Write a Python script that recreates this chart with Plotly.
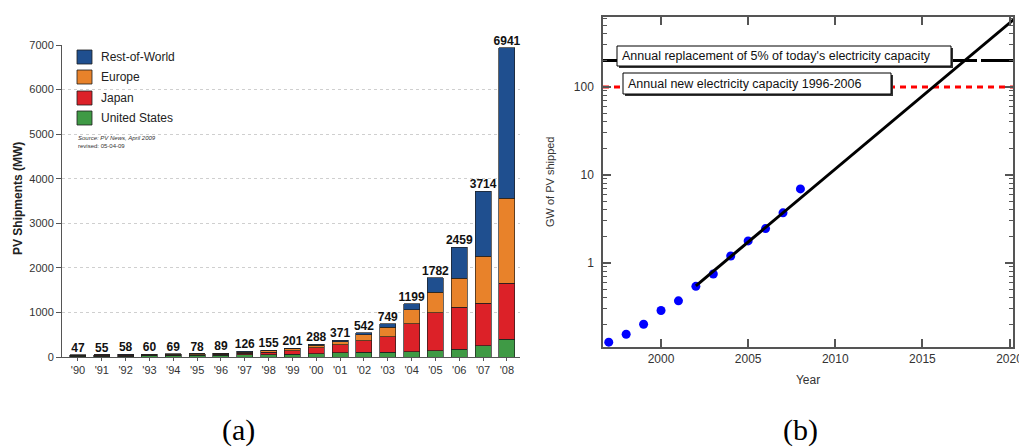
import plotly.graph_objects as go

W, H = 1019, 448

# ---------------- data: panel (a) ----------------
years_short = ["'90", "'91", "'92", "'93", "'94", "'95", "'96", "'97", "'98", "'99",
               "'00", "'01", "'02", "'03", "'04", "'05", "'06", "'07", "'08"]
totals = [47, 55, 58, 60, 69, 78, 89, 126, 155, 201, 288, 371, 542, 749, 1199, 1782, 2459, 3714, 6941]
us_mw = [15, 17, 18, 23, 26, 35, 39, 51, 54, 60, 75, 100, 112, 103, 120, 135, 172, 247, 397]
japan_mw = [17, 19, 19, 17, 17, 16, 21, 35, 49, 80, 129, 171, 255, 354, 622, 861, 944, 959, 1258]
europe_mw = [10, 13, 16, 17, 22, 20, 19, 19, 34, 40, 61, 75, 127, 210, 314, 457, 652, 1049, 1910]
row_mw = [5, 6, 5, 3, 4, 7, 10, 21, 18, 21, 23, 25, 48, 82, 143, 329, 691, 1459, 3376]

series_names = ["United States", "Japan", "Europe", "Rest-of-World"]
series_values = [us_mw, japan_mw, europe_mw, row_mw]
series_colors = ["#3f9a45", "#dc2128", "#e8822a", "#1f4f8f"]

# ---------------- data: panel (b) ----------------
pv_years = [1997, 1998, 1999, 2000, 2001, 2002, 2003, 2004, 2005, 2006, 2007, 2008]
pv_gw = [0.126, 0.155, 0.201, 0.288, 0.371, 0.542, 0.749, 1.199, 1.782, 2.459, 3.714, 6.941]
fit_years = [2002, 2021]
fit_gw = [0.55, 780]
replacement_gw = 200
new_capacity_gw = 100
year_range = [1996.67, 2020.2]
year_ticks = [2000, 2005, 2010, 2015, 2020]
gw_minor_ticks = [m * d for d in (0.1, 1, 10, 100) for m in range(2, 10)]

NARROW = "Liberation Sans Narrow, Arial Narrow, Liberation Sans, Arial, sans-serif"
ARIAL = "Liberation Sans, Arial, sans-serif"


def px(x):
    return x / W


def py(y):
    return 1 - y / H


fig = go.Figure()

for name, vals, col in zip(series_names, series_values, series_colors):
    fig.add_trace(go.Bar(
        x=years_short, y=vals, name=name, width=0.67,
        marker=dict(color=col, line=dict(color="rgba(30,30,30,0.85)", width=0.8)),
        xaxis="x", yaxis="y", showlegend=False,
    ))

fig.add_trace(go.Scatter(
    x=years_short, y=totals, mode="text", text=[str(t) for t in totals],
    textposition="top center",
    textfont=dict(family=NARROW, size=12, color="#111", weight="bold"),
    xaxis="x", yaxis="y", showlegend=False, cliponaxis=False,
))

# panel (b) traces
fig.add_trace(go.Scatter(
    x=year_range, y=[replacement_gw, replacement_gw], mode="lines",
    line=dict(color="black", width=3, dash="38px,4px"),
    xaxis="x2", yaxis="y2", showlegend=False,
))
fig.add_trace(go.Scatter(
    x=year_range, y=[new_capacity_gw, new_capacity_gw], mode="lines",
    line=dict(color="#ff0000", width=3, dash="6px,5px"),
    xaxis="x2", yaxis="y2", showlegend=False,
))
fig.add_trace(go.Scatter(
    x=pv_years, y=pv_gw, mode="markers",
    marker=dict(color="#0000ff", size=9),
    xaxis="x2", yaxis="y2", showlegend=False,
))
fig.add_trace(go.Scatter(
    x=fit_years, y=fit_gw, mode="lines",
    line=dict(color="black", width=3),
    xaxis="x2", yaxis="y2", showlegend=False,
))

shapes = []
annotations = []

# manual legend (top entry = top of stack)
legend_tops = [111, 91, 70, 50]
for name, col, top in zip(series_names, series_colors, legend_tops):
    shapes.append(dict(type="rect", xref="paper", yref="paper",
                       x0=px(77), x1=px(92), y0=py(top + 14), y1=py(top),
                       fillcolor=col, line=dict(color="rgba(30,30,30,0.8)", width=1)))
    annotations.append(dict(text=name, xref="paper", yref="paper",
                            x=px(99), y=py(top + 7), xanchor="left", yanchor="middle",
                            showarrow=False, font=dict(family=NARROW, size=12, color="#222")))
annotations.append(dict(text="<i>Source: PV News, April 2009</i><br>revised: 05-04-09",
                        xref="paper", yref="paper", x=px(76), y=py(133),
                        xanchor="left", yanchor="top", align="left", showarrow=False,
                        font=dict(family=ARIAL, size=6, color="#333")))

# y-axis titles
annotations.append(dict(text="PV Shipments (MW)", xref="paper", yref="paper",
                        x=px(18), y=py(199), xanchor="center", yanchor="middle",
                        textangle=-90, showarrow=False,
                        font=dict(family=NARROW, size=12, color="#222", weight="bold")))
annotations.append(dict(text="GW of PV shipped", xref="paper", yref="paper",
                        x=px(550), y=py(182), xanchor="center", yanchor="middle",
                        textangle=-90, showarrow=False,
                        font=dict(family=ARIAL, size=11, color="#333")))

# boxes on panel (b)
boxes = [
    (617, 951, 46, 66, "Annual replacement of 5% of today's electricity capacity"),
    (623, 891, 73, 94, "Annual new electricity capacity 1996-2006"),
]
for x0, x1, y0, y1, txt in boxes:
    shapes.append(dict(type="rect", xref="paper", yref="paper",
                       x0=px(x0 + 2), x1=px(x1 + 2), y0=py(y1 + 2), y1=py(y0 + 2),
                       fillcolor="#333", line=dict(width=0), layer="above"))
    shapes.append(dict(type="rect", xref="paper", yref="paper",
                       x0=px(x0), x1=px(x1), y0=py(y1), y1=py(y0),
                       fillcolor="white", line=dict(color="black", width=1), layer="above"))
    annotations.append(dict(text=txt, xref="paper", yref="paper",
                            x=px(x0 + 3), y=py((y0 + y1) / 2), xanchor="left", yanchor="middle",
                            showarrow=False, font=dict(family=ARIAL, size=12.5, color="#111")))

# captions
annotations.append(dict(text="(a)", xref="paper", yref="paper", x=px(238), y=py(430),
                        xanchor="center", yanchor="middle", showarrow=False,
                        font=dict(family="Liberation Serif, Times New Roman, serif", size=30, color="black")))
annotations.append(dict(text="(b)", xref="paper", yref="paper", x=px(800), y=py(430),
                        xanchor="center", yanchor="middle", showarrow=False,
                        font=dict(family="Liberation Serif, Times New Roman, serif", size=30, color="black")))

fig.update_layout(
    width=W, height=H,
    margin=dict(l=0, r=0, t=0, b=0, autoexpand=False),
    paper_bgcolor="white", plot_bgcolor="white",
    barmode="stack", bargap=0.33,
    showlegend=False,
    shapes=shapes, annotations=annotations,
    xaxis=dict(
        domain=[px(62), px(520)], anchor="y", type="category", automargin=False,
        range=[-0.67, 18.55], showline=True, linecolor="#555", linewidth=1,
        ticks="outside", ticklen=3, tickcolor="#555",
        tickfont=dict(family=NARROW, size=11, color="#333"),
        showgrid=False, zeroline=False,
    ),
    yaxis=dict(
        domain=[1 - 357 / H, 1 - 45 / H], anchor="x", automargin=False,
        range=[0, 7000], dtick=1000,
        showline=True, linecolor="#555", linewidth=1,
        ticks="outside", ticklen=5, tickcolor="#555",
        tickfont=dict(family=NARROW, size=11, color="#333"),
        showgrid=True, gridcolor="#cfcfcf", griddash="dot", gridwidth=1,
        zeroline=False,
    ),
    xaxis2=dict(
        domain=[px(603), px(1013)], anchor="y2", automargin=False,
        range=year_range, tickvals=year_ticks,
        ticks="inside", ticklen=8, tickcolor="#555", tickwidth=1.5,
        mirror="allticks", showline=True, linecolor="#555", linewidth=1.5,
        tickfont=dict(family=ARIAL, size=12, color="#333"),
        ticklabeloverflow="allow",
        showgrid=False, zeroline=False,
        title=dict(text="Year", standoff=10, font=dict(family=ARIAL, size=12, color="#333")),
    ),
    yaxis2=dict(
        domain=[1 - 347 / H, 1 - 17 / H], anchor="x2", type="log", automargin=False,
        range=[-0.955, 2.795], dtick=1,
        ticks="inside", ticklen=8, tickcolor="#555", tickwidth=1.5,
        ticklabelstandoff=5,
        minor=dict(ticks="inside", ticklen=4, tickmode="array", tickvals=gw_minor_ticks,
                   tickcolor="#555", tickwidth=1.2, showgrid=False),
        mirror="allticks", showline=True, linecolor="#555", linewidth=1.5,
        tickfont=dict(family=ARIAL, size=12, color="#333"),
        showgrid=False, zeroline=False,
    ),
)

fig.write_html("out.html")
